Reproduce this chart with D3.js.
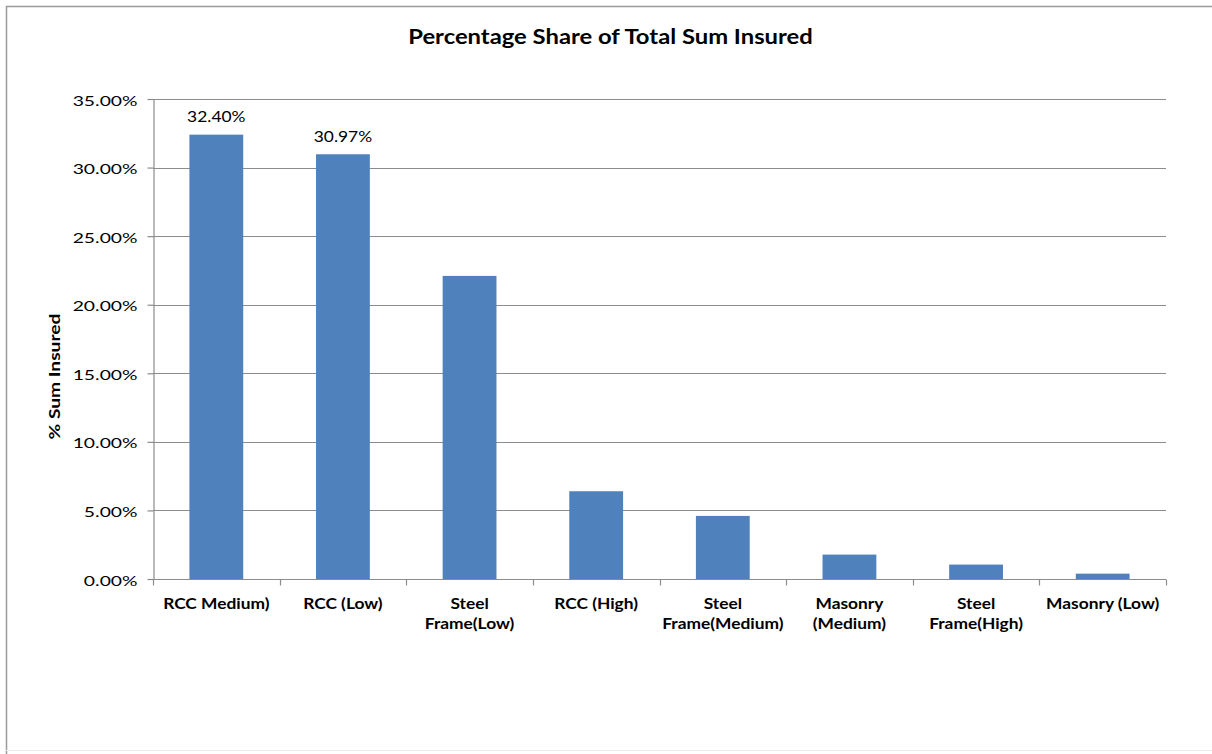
<!DOCTYPE html>
<html>
<head>
<meta charset="utf-8">
<script src="https://cdn.jsdelivr.net/npm/d3@7/dist/d3.min.js"></script>
<style>
  html, body { margin: 0; padding: 0; background: #fff; }
  svg { display: block; }
  text { font-family: Lato, "Open Sans", sans-serif; fill: #000; }
</style>
</head>
<body>
<svg id="chart" width="1212" height="754"></svg>
<script>
// Construction classes, share of total sum insured (%)
const categories = [
  ["RCC Medium)"],
  ["RCC (Low)"],
  ["Steel", "Frame(Low)"],
  ["RCC (High)"],
  ["Steel", "Frame(Medium)"],
  ["Masonry", "(Medium)"],
  ["Steel", "Frame(High)"],
  ["Masonry (Low)"]
];
const shares = [32.40, 30.97, 22.10, 6.40, 4.60, 1.78, 1.05, 0.39];
// Only the two largest bars carry value labels
const labelled = [true, true, false, false, false, false, false, false];
const yTicks = [0, 5, 10, 15, 20, 25, 30, 35];

const svg = d3.select("#chart");
const W = 1212, H = 754;
const plot = { left: 153, right: 1166, top: 99, bottom: 579 };
const axisGrey = "#8c8c8c";

// Places a text at (x, y) with a horizontal stretch, keeping its anchor point fixed
function placeText(sel, x, y, sx) {
  return sel.attr("x", 0).attr("y", 0)
    .attr("transform", (d, i) => `translate(${x(d, i)},${y(d, i)}) scale(${sx},1)`);
}

// Outer chart frame
svg.append("path")
  .attr("d", `M6.5,${H} V6.5 H${W}`)
  .attr("fill", "none")
  .attr("stroke", "#9a9a9a")
  .attr("stroke-width", 1.5);
svg.append("line")
  .attr("x1", 6).attr("x2", W).attr("y1", 750.5).attr("y2", 750.5)
  .attr("stroke", "#ececec");

const x = d3.scaleBand()
  .domain(d3.range(categories.length))
  .range([plot.left, plot.right])
  .paddingInner(0.575)
  .paddingOuter(0.2875);

const xCat = d3.scaleBand()
  .domain(d3.range(categories.length))
  .range([plot.left, plot.right]);

const y = d3.scaleLinear().domain([0, 35]).range([plot.bottom, plot.top]);

// Horizontal gridlines
svg.append("g")
  .selectAll("line")
  .data(yTicks.filter(d => d > 0))
  .join("line")
  .attr("x1", plot.left).attr("x2", plot.right)
  .attr("y1", d => Math.round(y(d)) + 0.5).attr("y2", d => Math.round(y(d)) + 0.5)
  .attr("stroke", axisGrey)
  .attr("stroke-width", 1.2);

// Y axis
const yAxis = svg.append("g")
  .attr("transform", `translate(${plot.left + 0.5},0)`)
  .call(d3.axisLeft(y).tickValues(yTicks).tickSize(6).tickSizeOuter(0)
    .tickFormat(d => d.toFixed(2) + "%"));
yAxis.select(".domain").attr("stroke", axisGrey).attr("stroke-width", 1.2);
yAxis.selectAll(".tick line").attr("stroke", axisGrey).attr("stroke-width", 1.2);
yAxis.selectAll(".tick text")
  .attr("x", 0)
  .attr("dy", null)
  .attr("transform", "translate(-16,6) scale(1.38,1)")
  .attr("text-anchor", "end")
  .style("font-size", "14px")
  .style("font-family", "Lato, sans-serif")
  .attr("fill", "#000");

// Bars
svg.append("g")
  .selectAll("rect")
  .data(shares)
  .join("rect")
  .attr("x", (d, i) => x(i))
  .attr("width", x.bandwidth())
  .attr("y", d => y(d))
  .attr("height", d => y(0) - y(d))
  .attr("fill", "#4f81bd");

// X axis line and category ticks
const xAxis = svg.append("g")
  .attr("transform", `translate(0,${plot.bottom + 0.5})`);
xAxis.append("line")
  .attr("x1", plot.left).attr("x2", plot.right)
  .attr("stroke", axisGrey).attr("stroke-width", 1.2);
xAxis.selectAll("line.tick")
  .data(d3.range(categories.length + 1))
  .join("line")
  .attr("class", "tick")
  .attr("x1", i => Math.round(plot.left + i * xCat.step()) + 0.5)
  .attr("x2", i => Math.round(plot.left + i * xCat.step()) + 0.5)
  .attr("y1", 0).attr("y2", 6)
  .attr("stroke", axisGrey).attr("stroke-width", 1.2);

// Category labels
const catLabels = svg.append("g")
  .selectAll("text")
  .data(categories)
  .join("text")
  .attr("text-anchor", "middle")
  .style("font-size", "15.5px")
  .style("font-weight", "bold");
placeText(catLabels, (d, i) => xCat(i) + xCat.bandwidth() / 2, () => 609, 1.12);
catLabels.selectAll("tspan")
  .data(d => d)
  .join("tspan")
  .attr("x", 0)
  .attr("dy", (d, i) => i === 0 ? 0 : 20)
  .text(d => d);

// Value labels
const valueLabels = svg.append("g")
  .selectAll("text")
  .data(shares.map((v, i) => ({ v, i })).filter(d => labelled[d.i]))
  .join("text")
  .attr("text-anchor", "middle")
  .style("font-size", "15px")
  .text(d => d.v.toFixed(2) + "%");
placeText(valueLabels, d => x(d.i) + x.bandwidth() / 2, d => y(d.v) - 12.5, 1.16);

// Axis title
svg.append("text")
  .attr("transform", `translate(60,376.5) rotate(-90) scale(1.2,1)`)
  .attr("text-anchor", "middle")
  .style("font-size", "16px")
  .style("font-weight", "bold")
  .text("% Sum Insured");

// Chart title
svg.append("text")
  .attr("transform", "translate(610.5,44.3) scale(1.19,1)")
  .attr("text-anchor", "middle")
  .style("font-size", "20px")
  .style("font-weight", "bold")
  .text("Percentage Share of Total Sum Insured");
</script>
</body>
</html>
